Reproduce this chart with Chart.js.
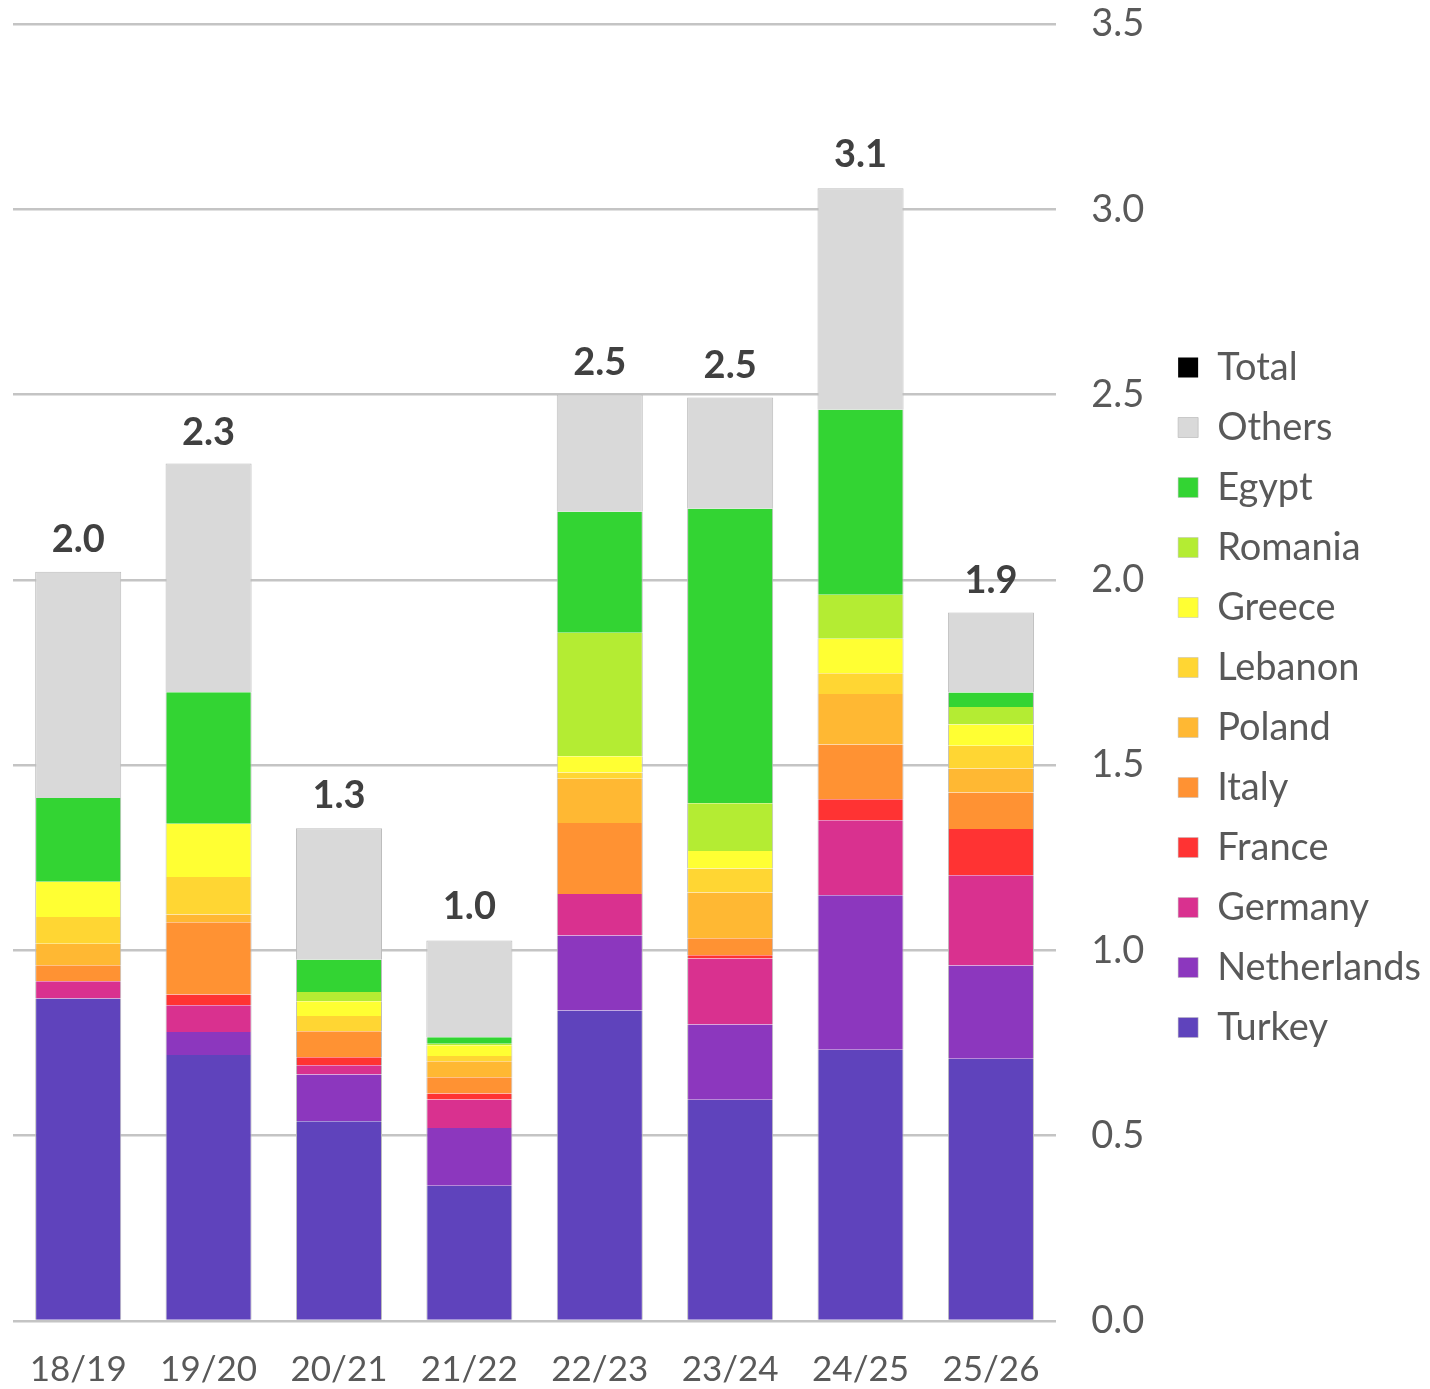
<!DOCTYPE html>
<html>
<head>
<meta charset="utf-8">
<script src="https://cdn.jsdelivr.net/npm/chart.js@4.4.1/dist/chart.umd.min.js"></script>
<style>
  html, body { margin: 0; padding: 0; background: #fff; }
  #wrap { width: 1430px; height: 1389px; position: relative; }
</style>
</head>
<body>
<div id="wrap"><canvas id="chart"></canvas></div>
<script>
// categories (seasons)
const seasons = ['18/19', '19/20', '20/21', '21/22', '22/23', '23/24', '24/25', '25/26'];

// series values
const turkey      = [0.870, 0.718, 0.539, 0.365, 0.838, 0.597, 0.732, 0.708];
const netherlands = [0.000, 0.062, 0.126, 0.156, 0.202, 0.203, 0.417, 0.251];
const germany     = [0.047, 0.072, 0.025, 0.077, 0.112, 0.178, 0.202, 0.244];
const france      = [0.000, 0.029, 0.022, 0.016, 0.000, 0.009, 0.057, 0.125];
const italy       = [0.043, 0.195, 0.070, 0.044, 0.192, 0.046, 0.148, 0.098];
const poland      = [0.058, 0.021, 0.000, 0.043, 0.119, 0.123, 0.136, 0.065];
const lebanon     = [0.072, 0.101, 0.041, 0.014, 0.017, 0.065, 0.056, 0.061];
const greece      = [0.095, 0.144, 0.040, 0.029, 0.044, 0.047, 0.093, 0.058];
const romania     = [0.000, 0.000, 0.025, 0.004, 0.333, 0.129, 0.119, 0.047];
const egypt       = [0.226, 0.355, 0.087, 0.018, 0.327, 0.795, 0.499, 0.039];
const others      = [0.611, 0.617, 0.355, 0.261, 0.316, 0.300, 0.598, 0.216];
const totals      = [2.02, 2.31, 1.33, 1.03, 2.50, 2.49, 3.06, 1.91];

// tick labels
const yTickLabels = ['0.0', '0.5', '1.0', '1.5', '2.0', '2.5', '3.0', '3.5'];

const FONT = "'Century Gothic', Lato, 'DejaVu Sans', sans-serif";
const EDGE = '#bdbdbd';

function barSet(label, data, color, top) {
    return {
        type: 'bar',
        label: label,
        data: data,
        backgroundColor: color,
        borderColor: EDGE,
        borderWidth: { left: 1, right: 1, top: top ? 1 : 0, bottom: 0 },
        borderSkipped: false,
        stack: 'exports',
        barPercentage: 0.66,
        categoryPercentage: 1.0
    };
}

// draws the total above each stack
const totalLabels = {
    id: 'totalLabels',
    afterDatasetsDraw(chart) {
        const idx = chart.data.datasets.length - 1;
        const meta = chart.getDatasetMeta(idx);
        const ctx = chart.ctx;
        ctx.save();
        ctx.font = "bold 38px " + FONT;
        ctx.fillStyle = '#404040';
        ctx.textAlign = 'center';
        ctx.textBaseline = 'alphabetic';
        meta.data.forEach((pt, i) => {
            ctx.fillText(totals[i].toFixed(1), pt.x, pt.y - 20);
        });
        ctx.restore();
    }
};

const config = {
    data: {
        labels: seasons,
        datasets: [
            barSet('Turkey', turkey, '#5f43bc'),
            barSet('Netherlands', netherlands, '#8c37be'),
            barSet('Germany', germany, '#d9318f'),
            barSet('France', france, '#ff3333'),
            barSet('Italy', italy, '#ff9233'),
            barSet('Poland', poland, '#ffb833'),
            barSet('Lebanon', lebanon, '#ffd633'),
            barSet('Greece', greece, '#ffff33'),
            barSet('Romania', romania, '#b4ec33'),
            barSet('Egypt', egypt, '#33d433'),
            barSet('Others', others, '#d9d9d9', true),
            {
                type: 'line',
                label: 'Total',
                data: totals,
                stack: 'total',
                showLine: false,
                pointRadius: 0,
                pointHoverRadius: 0,
                backgroundColor: '#000000',
                borderColor: '#000000',
                borderWidth: 0
            }
        ]
    },
    options: {
        responsive: true,
        maintainAspectRatio: false,
        animation: false,
        layout: {
            padding: { left: 13, right: -1, top: -24, bottom: -30 }
        },
        plugins: {
            legend: {
                position: 'right',
                reverse: true,
                labels: {
                    boxWidth: 20,
                    boxHeight: 20,
                    padding: 22,
                    color: '#595959',
                    font: { family: FONT, size: 38 }
                }
            },
            tooltip: { enabled: false },
            title: { display: false }
        },
        scales: {
            x: {
                stacked: true,
                grid: { display: false, drawTicks: false },
                border: { display: false },
                ticks: {
                    color: '#595959',
                    padding: 28,
                    font: { family: FONT, size: 35 }
                }
            },
            y: {
                position: 'right',
                stacked: true,
                min: 0,
                max: 3.5,
                afterFit: (scale) => {
                    scale.width = 100;
                    scale.paddingTop = 24;
                    scale.paddingBottom = 0;
                },
                grid: { color: '#c4c4c4', lineWidth: 2.5, drawTicks: false },
                border: { display: false },
                ticks: {
                    stepSize: 0.5,
                    color: '#595959',
                    padding: 35,
                    font: { family: FONT, size: 38 },
                    callback: (v, i) => yTickLabels[i]
                }
            }
        }
    },
    plugins: [totalLabels]
};

window.addEventListener('DOMContentLoaded', () => {
    const ctx = document.getElementById('chart').getContext('2d');
    new Chart(ctx, config);
});
</script>
</body>
</html>
